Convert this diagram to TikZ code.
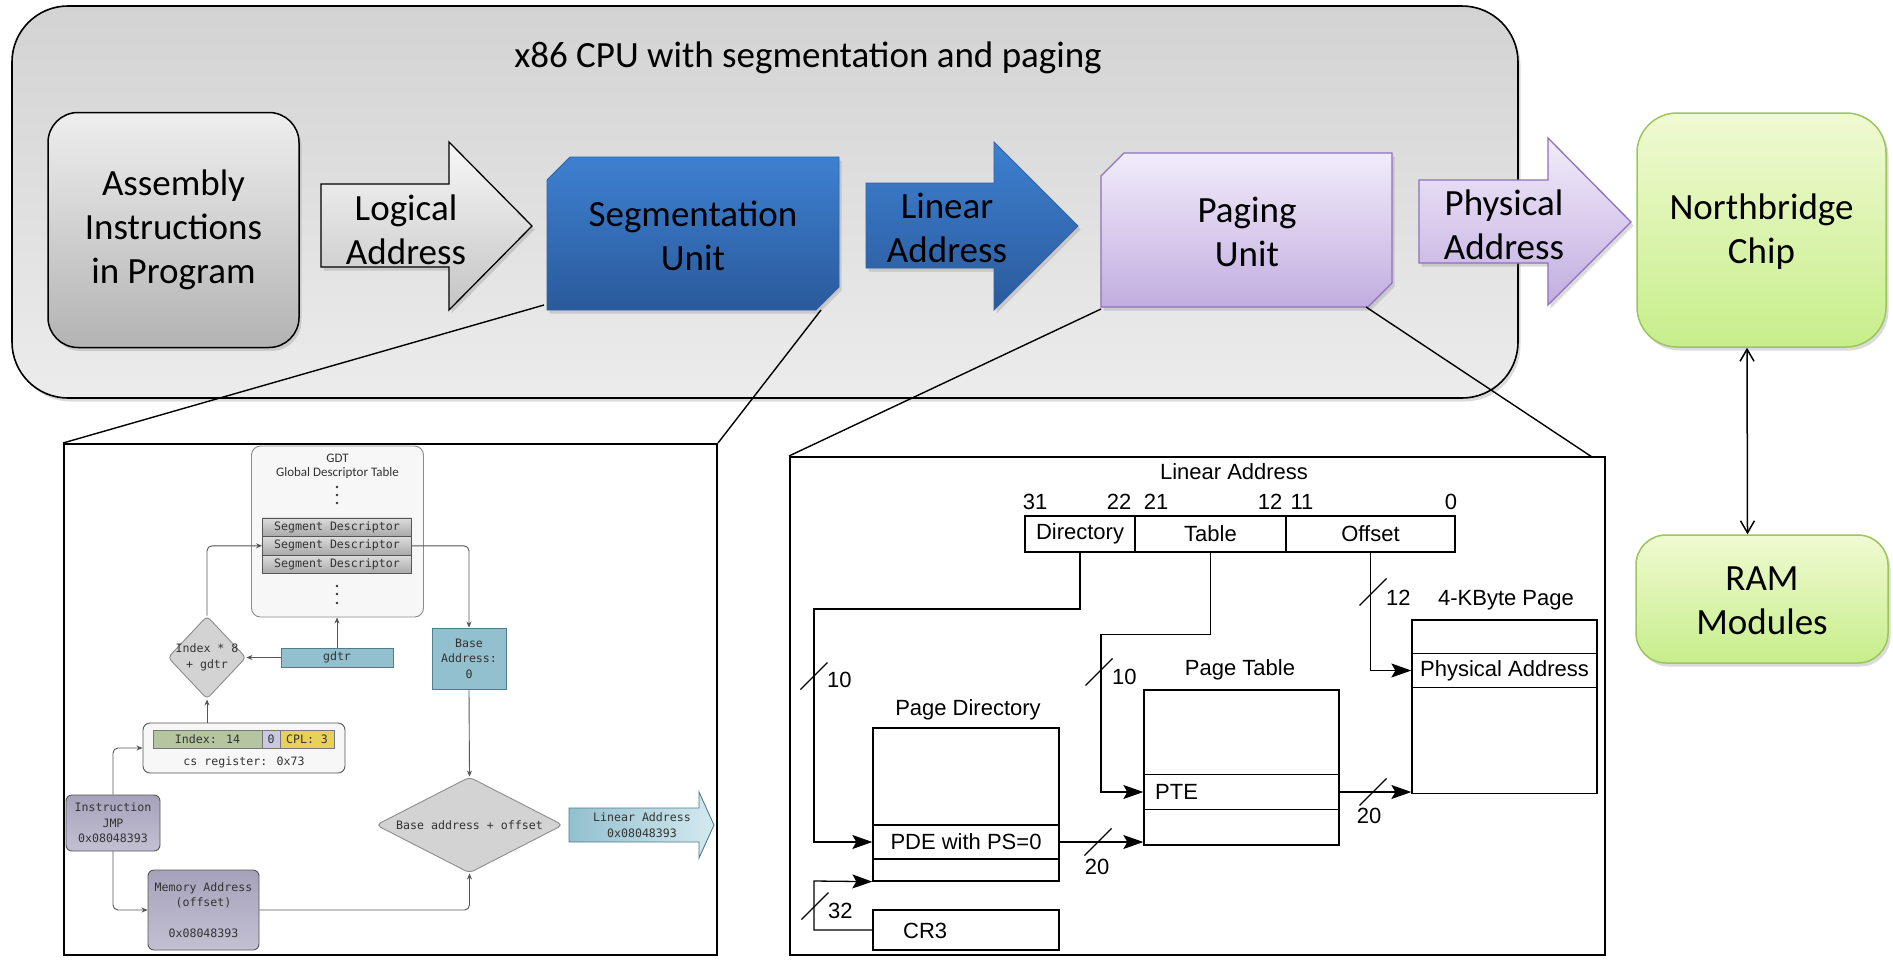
\documentclass[tikz,border=0pt]{standalone}
\usepackage{fontspec}
\setmainfont{Carlito}
\newfontfamily\arialfont{Liberation Sans}
\newfontfamily\codefont{DejaVu Sans Mono}
\usetikzlibrary{arrows.meta,shapes.geometric,shadows,calc}

\definecolor{cpuTop}{HTML}{D3D3D3}
\definecolor{cpuBot}{HTML}{ECECEC}
\definecolor{asmTop}{HTML}{EEEEEE}
\definecolor{asmBot}{HTML}{B3B3B3}
\definecolor{logTop}{HTML}{F7F7F7}
\definecolor{logBot}{HTML}{C4C4C4}
\definecolor{segTop}{HTML}{3E80D0}
\definecolor{segBot}{HTML}{2A5A9C}
\definecolor{segLine}{HTML}{2E62A6}
\definecolor{pagTop}{HTML}{F1ECFA}
\definecolor{pagBot}{HTML}{C2ADE0}
\definecolor{pagLine}{HTML}{8D70BF}
\definecolor{nbTop}{HTML}{F0FAD2}
\definecolor{nbBot}{HTML}{C7EE8B}
\definecolor{nbLine}{HTML}{9CC65B}
\definecolor{flowGray}{HTML}{555555}
\definecolor{txtGray}{HTML}{333333}
\definecolor{panelGray}{HTML}{F7F7F7}
\definecolor{gdtLine}{HTML}{8C8C8C}
\definecolor{descTop}{HTML}{DCDCDC}
\definecolor{descBot}{HTML}{A8A8A8}
\definecolor{regTeal}{HTML}{93C0CE}
\definecolor{tealLine}{HTML}{4E7D8D}
\definecolor{tealLight}{HTML}{D4E9EF}
\definecolor{sage}{HTML}{B4C5A0}
\definecolor{lilac}{HTML}{C9C9E1}
\definecolor{gold}{HTML}{E7D05B}
\definecolor{slateTop}{HTML}{A6A2BB}
\definecolor{slateBot}{HTML}{C3C0D3}
\definecolor{decGray}{HTML}{D3D3D3}

\begin{document}
\begin{tikzpicture}[x=1pt,y=-1pt,
  softshadow/.style={drop shadow={opacity=0.28,shadow xshift=2.5pt,shadow yshift=-3.5pt}},
  bigtext/.style={font=\fontsize{37}{44}\selectfont,align=center,inner sep=0pt,text=black},
  codetext/.style={font=\codefont\fontsize{11.6}{15.5}\selectfont,align=center,inner sep=0pt,text=txtGray},
  flow/.style={draw=flowGray,line width=0.9pt,rounded corners=5pt,-{Stealth[length=6pt,width=5pt]}},
  figtext/.style={font=\arialfont\fontsize{22}{26}\selectfont,inner sep=0pt},
  pline/.style={draw=black,line width=1.3pt},
  parrow/.style={pline,-{Stealth[length=20pt,width=14pt,inset=4pt]}},
  cell/.style={draw=black,line width=1.3pt,inner sep=0pt,figtext},
  inset/.style={draw=black,line width=2pt,fill=white,inner sep=0pt},
  zoomline/.style={draw=black,line width=1.4pt},
  desc/.style={draw=flowGray,line width=0.8pt,top color=descTop,bottom color=descBot,
    minimum width=149pt,minimum height=18.6pt,inner sep=0pt,codetext},
  slate/.style={draw=flowGray,line width=0.9pt,top color=slateTop,bottom color=slateBot,
    rounded corners=6pt,inner sep=0pt,codetext},
  tealbox/.style={draw=tealLine,line width=0.9pt,fill=regTeal,inner sep=0pt,codetext},
  barcell/.style={draw=flowGray!80,line width=0.8pt,minimum height=18pt,inner sep=0pt,codetext},
  greenbox/.style={draw=nbLine,line width=1.5pt,top color=nbTop,bottom color=nbBot,inner sep=0pt,softshadow},
]
\useasboundingbox (0,0) rectangle (1893,959);
\fill[white] (0,0) rectangle (1893,959);

% ---------- CPU ----------
\node[draw=black,line width=1.6pt,rounded corners=56pt,top color=cpuTop,bottom color=cpuBot,
  minimum width=1506pt,minimum height=392pt,inner sep=0pt,softshadow] (cpu) at (765,202) {};
\node[bigtext] (cputitle) at (808,58) {x86 CPU with segmentation and paging};

\node[draw=black,line width=1.5pt,rounded corners=30pt,top color=asmTop,bottom color=asmBot,
  minimum width=251pt,minimum height=235pt,inner sep=0pt,softshadow] (asm) at (173.5,230) {};
\node[bigtext] (asmtext) at (asm) {Assembly\\Instructions\\in Program};

% logical address arrow
\path[draw=black,line width=1.3pt,top color=logTop,bottom color=logBot,softshadow]
  (321,184) -- (449,184) -- (449,142) -- (532,226) -- (449,310) -- (449,267) -- (321,267) -- cycle;
\node[bigtext] (logtext) at (406,230) {Logical\\Address};

% segmentation unit
\path[draw=segLine,line width=0.8pt,top color=segTop,bottom color=segBot,softshadow]
  (547,180) -- (570,157) -- (839,157) -- (839,287) -- (816,310) -- (547,310) -- cycle;
\node[bigtext] (segtext) at (693,236) {Segmentation\\Unit};

% linear address arrow
\path[draw=segLine,line width=0.8pt,top color=segTop,bottom color=segBot,softshadow]
  (866,183) -- (994,183) -- (994,142) -- (1078,226) -- (994,310) -- (994,268) -- (866,268) -- cycle;
\node[bigtext] (lintext) at (947,228) {Linear\\Address};

% paging unit
\path[draw=pagLine,line width=1.3pt,top color=pagTop,bottom color=pagBot,softshadow]
  (1101,176) -- (1124,153) -- (1392,153) -- (1392,283) -- (1368,307) -- (1101,307) -- cycle;
\node[bigtext] (pagtext) at (1247,232) {Paging\\Unit};

% physical address arrow
\path[draw=pagLine,line width=1.3pt,top color=pagTop,bottom color=pagBot,softshadow]
  (1419,180) -- (1548,180) -- (1548,138) -- (1631,222) -- (1548,305) -- (1548,263) -- (1419,263) -- cycle;
\node[bigtext] (phystext) at (1504,225) {Physical\\Address};

% northbridge and RAM
\node[greenbox,rounded corners=40pt,minimum width=249pt,minimum height=234pt] (nb) at (1761.5,230) {};
\node[bigtext] (nbtext) at ([yshift=-2pt]nb.center) {Northbridge\\Chip};
\node[greenbox,rounded corners=30pt,minimum width=252pt,minimum height=128pt] (ram) at (1762,599) {};
\node[bigtext] (ramtext) at ([yshift=-2pt]ram.center) {RAM\\Modules};
\draw[line width=1.5pt,{Straight Barb[length=12pt,width=14pt]}-{Straight Barb[length=12pt,width=14pt]}]
  ([xshift=-14.5pt]nb.south) -- ([xshift=-14.5pt]ram.north);

% ---------- detail panels ----------
\node[inset,minimum width=653pt,minimum height=511pt] (segpanel) at (390.5,699.5) {};
\node[inset,minimum width=815pt,minimum height=498pt] (pagpanel) at (1197.5,706) {};

\coordinate (segBL) at (544,305);
\coordinate (segBR) at (821,310);
\coordinate (pagBL) at (1101,309);
\coordinate (pagBR) at (1366,307);
\coordinate (pagTR) at (1592,457);
\draw[zoomline] (segBL) -- (segpanel.north west);
\draw[zoomline] (segBR) -- (segpanel.north east);
\draw[zoomline] (pagBL) -- (pagpanel.north west);
\draw[zoomline] (pagBR) -- (pagTR);

% ---------- segmentation detail ----------
\node[draw=gdtLine,line width=0.9pt,fill=panelGray,rounded corners=9pt,
  minimum width=172pt,minimum height=171pt,inner sep=0pt] (gdt) at (337.5,531.5) {};
\node[font=\fontsize{13}{15}\selectfont,text=txtGray,inner sep=0pt] (gdttitle) at (337.5,458) {GDT};
\node[font=\fontsize{13}{15}\selectfont,text=txtGray,inner sep=0pt] (gdtname) at (337.5,473) {Global Descriptor Table};
\fill[txtGray] (337,487) circle (1.3pt) (337,495) circle (1.3pt) (337,503) circle (1.3pt);
\fill[txtGray] (337,586) circle (1.3pt) (337,594) circle (1.3pt) (337,603) circle (1.3pt);
\node[desc] (sd1) at (337,527.2) {Segment Descriptor};
\node[desc] (sd2) at (337,545.8) {Segment Descriptor};
\node[desc] (sd3) at (337,564.4) {Segment Descriptor};

\node[diamond,draw=gdtLine,line width=0.9pt,fill=decGray,rounded corners=4pt,
  minimum width=78pt,minimum height=83pt,inner sep=0pt] (idx) at (207,657.5) {};
\node[codetext] (idxtext) at (idx) {Index * 8\\+ gdtr};
\node[tealbox,minimum width=112pt,minimum height=19pt] (gdtr) at (337,657.5) {gdtr};
\node[tealbox,minimum width=74pt,minimum height=61pt] (base) at (469,658.5) {Base\\Address:\\0};

\node[draw=flowGray,line width=0.9pt,fill=panelGray,rounded corners=7pt,
  minimum width=202pt,minimum height=50pt,inner sep=0pt] (cs) at (244,748) {};
\node[barcell,fill=sage,minimum width=109pt] (csidx) at (207.5,739) {Index: 14};
\node[barcell,fill=lilac,minimum width=18pt] (csti) at (271,739) {0};
\node[barcell,fill=gold,minimum width=54pt] (cscpl) at (307,739) {CPL: 3};
\node[codetext] (cslabel) at (244,762.5) {cs register: 0x73};

\node[slate,minimum width=94pt,minimum height=56pt] (instr) at (113,823) {Instruction\\JMP\\0x08048393};
\node[slate,minimum width=111pt,minimum height=80pt] (mem) at (203.5,910) {Memory Address\\(offset)\\\mbox{}\\0x08048393};

\node[diamond,draw=gdtLine,line width=0.9pt,fill=decGray,rounded corners=5pt,
  minimum width=187pt,minimum height=96pt,inner sep=0pt] (bsum) at (469.5,825) {};
\node[codetext] (bsumtext) at (bsum) {Base address + offset};

\path[draw=tealLine,line width=0.9pt,left color=regTeal,right color=tealLight]
  (569,808) -- (699,808) -- (699,792) -- (714,825) -- (699,858) -- (699,842) -- (569,842) -- cycle;
\node[codetext] (segout) at (642,825) {Linear Address\\0x08048393};

\draw[flow] (idx.north) |- (sd2.west);
\draw[flow] (sd2.east) -| (base.north);
\draw[flow] (gdtr.north) -- (gdtr.north |- gdt.south);
\draw[flow] (gdtr.west) -- (idx.east);
\draw[flow] (idx.south |- cs.north) -- (idx.south);
\draw[flow] (instr.north) |- (cs.west);
\draw[flow] (instr.south) |- (mem.west);
\draw[flow] (mem.east) -| (bsum.south);
\draw[flow] (base.south) -- (bsum.north);

% ---------- paging detail ----------
\node[figtext] (latitle) at (1234,472) {Linear Address};
\node[figtext] (b31) at (1035,502) {31};
\node[figtext] (b22) at (1119,502) {22};
\node[figtext] (b21) at (1156,502) {21};
\node[figtext] (b12) at (1270,502) {12};
\node[figtext] (b11) at (1302,502) {11};
\node[figtext] (b0) at (1451,502) {0};
\node[cell,minimum width=110pt,minimum height=36pt] (dir) at (1080,534) {Directory};
\node[cell,minimum width=151pt,minimum height=36pt] (tab) at (1210.5,534) {Table};
\node[cell,minimum width=169pt,minimum height=36pt] (off) at (1370.5,534) {Offset};

\node[figtext] (pdtitle) at (968,710) {Page Directory};
\node[cell,minimum width=186pt,minimum height=153pt] (pd) at (966,804.5) {};
\node[cell,minimum width=186pt,minimum height=34pt] (pde) at (966,842) {PDE with PS=0};
\node[cell,minimum width=186pt,minimum height=40pt] (cr3) at (966,930) {};
\node[figtext,anchor=west] (cr3text) at (903,931) {CR3};

\node[figtext] (pttitle) at (1240,670) {Page Table};
\node[cell,minimum width=195pt,minimum height=155pt] (pt) at (1241.5,767.5) {};
\node[cell,minimum width=195pt,minimum height=34.5pt] (pte) at (1241.5,792) {};
\node[figtext,anchor=west] (ptetext) at (1155,792) {PTE};

\node[figtext] (kbtitle) at (1506,600) {4-KByte Page};
\node[cell,minimum width=185pt,minimum height=173.5pt] (kb) at (1504.5,706.75) {};
\node[cell,minimum width=185pt,minimum height=34pt] (phys) at (1504.5,670.5) {Physical Address};

\draw[parrow] (dir.south) |- (814,609) |- (pde.west);
\draw[parrow] (tab.south) |- (1101,634.5) |- (pte.west);
\draw[parrow] (off.south) |- (phys.west);
\draw[parrow] (pde.east) -- (pde.east -| pt.west);
\draw[parrow] (pte.east) -- (pte.east -| kb.west);
\draw[parrow] (cr3.west) -| (814,881) -- (pd.south west);

% bus width marks
\draw[pline] (814,676) ++(-13.5,13.5) -- ++(27,-27);
\node[figtext,anchor=west] (w1) at (827,680) {10};
\draw[pline] (1099,672) ++(-13.5,13.5) -- ++(27,-27);
\node[figtext,anchor=west] (w2) at (1112,677) {10};
\draw[pline] (1373,592) ++(-13.5,13.5) -- ++(27,-27);
\node[figtext,anchor=west] (w3) at (1386,598) {12};
\draw[pline] (1098,842) ++(-13.5,13.5) -- ++(27,-27);
\node[figtext] (w4) at (1097,867) {20};
\draw[pline] (1373,792) ++(-13.5,13.5) -- ++(27,-27);
\node[figtext] (w5) at (1369,816) {20};
\draw[pline] (815,906) ++(-13.5,13.5) -- ++(27,-27);
\node[figtext,anchor=west] (w6) at (828,911) {32};
\end{tikzpicture}
\end{document}
